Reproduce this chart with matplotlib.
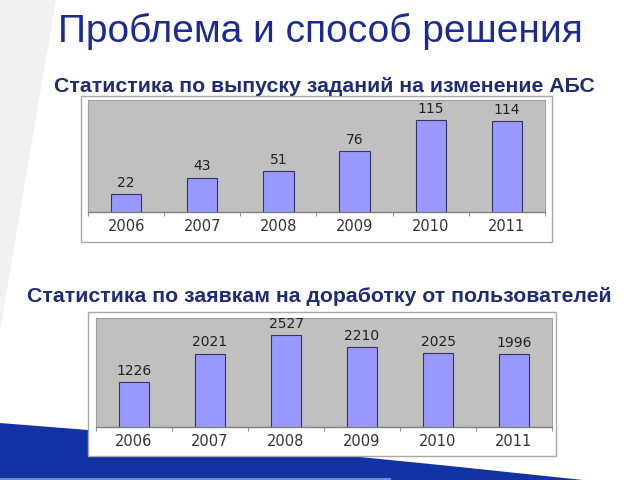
import matplotlib
matplotlib.use("Agg")
import matplotlib.pyplot as plt
from matplotlib.patches import Rectangle, Polygon

# data
years = ["2006", "2007", "2008", "2009", "2010", "2011"]
tasks = [22, 43, 51, 76, 115, 114]
requests = [1226, 2021, 2527, 2210, 2025, 1996]

title = "Проблема и способ решения"
subtitle1 = "Статистика по выпуску заданий на изменение АБС"
subtitle2 = "Статистика по заявкам на доработку от пользователей"

W, H = 640, 480
fig = plt.figure(figsize=(6.4, 4.8), dpi=100)

# background layer in pixel coordinates (y goes down)
bg = fig.add_axes([0, 0, 1, 1])
bg.set_xlim(0, W)
bg.set_ylim(H, 0)
bg.axis("off")

# faint gray wedge at the left
bg.add_patch(Polygon([(0, 0), (56, 0), (0, 330)], closed=True,
                     facecolor="#f1f1f1", edgecolor="none", zorder=0))

# blue swoosh at the bottom
swoosh = [(0, 423), (88, 430), (200, 440), (320, 453), (450, 466),
          (583, 480), (0, 480)]
bg.add_patch(Polygon(swoosh, closed=True, facecolor="#1232a3",
                     edgecolor="none", zorder=1))
bg.plot([0, 390], [478.5, 478.5], color="#7088d4", lw=1.5, zorder=2)

# white frames around the charts
bg.add_patch(Rectangle((81, 96), 471, 146, facecolor="white",
                       edgecolor="#a8a8a8", lw=1, zorder=3))
bg.add_patch(Rectangle((88, 312), 468, 144, facecolor="white",
                       edgecolor="#a8a8a8", lw=1, zorder=3))

# texts
bg.text(320, 31, title, ha="center", va="center", fontsize=28,
        family="Liberation Sans", color="#1a2a96", zorder=4)
bg.text(324, 87, subtitle1, ha="center", va="center", fontsize=15.3,
        family="Liberation Sans", fontweight="bold", color="#1e2b7a", zorder=4)
bg.text(319, 297, subtitle2, ha="center", va="center", fontsize=15.3,
        family="Liberation Sans", fontweight="bold", color="#1e2b7a", zorder=4)


def draw_chart(rect, values, ymax):
    ax = fig.add_axes(rect)
    ax.set_facecolor("#c0c0c0")
    x = list(range(len(years)))
    ax.bar(x, values, width=0.4, color="#9999ff", edgecolor="#333366", lw=0.8)
    for xi, v in zip(x, values):
        ax.annotate(str(v), (xi, v), xytext=(0, 3), textcoords="offset points",
                    ha="center", va="bottom", fontsize=10, color="#222222")
    ax.set_xlim(-0.5, len(years) - 0.5)
    ax.set_ylim(0, ymax)
    ax.set_yticks([])
    ax.set_xticks(x)
    ax.set_xticklabels(years, fontsize=10.5, color="#333333")
    ax.tick_params(axis="x", which="major", length=0, pad=5)
    ax.set_xticks([i - 0.5 for i in range(len(years) + 1)], minor=True)
    ax.tick_params(axis="x", which="minor", length=3, color="#808080",
                   direction="out")
    for s in ["left", "top", "right"]:
        ax.spines[s].set_color("#a0a0a0")
        ax.spines[s].set_linewidth(0.8)
    ax.spines["bottom"].set_color("#808080")
    ax.spines["bottom"].set_linewidth(1)
    return ax


draw_chart([88 / W, 1 - 212 / H, 457 / W, 112 / H], tasks, 140)
draw_chart([96 / W, 1 - 427 / H, 456 / W, 109 / H], requests, 3000)

fig.savefig("out.png", dpi=100)
